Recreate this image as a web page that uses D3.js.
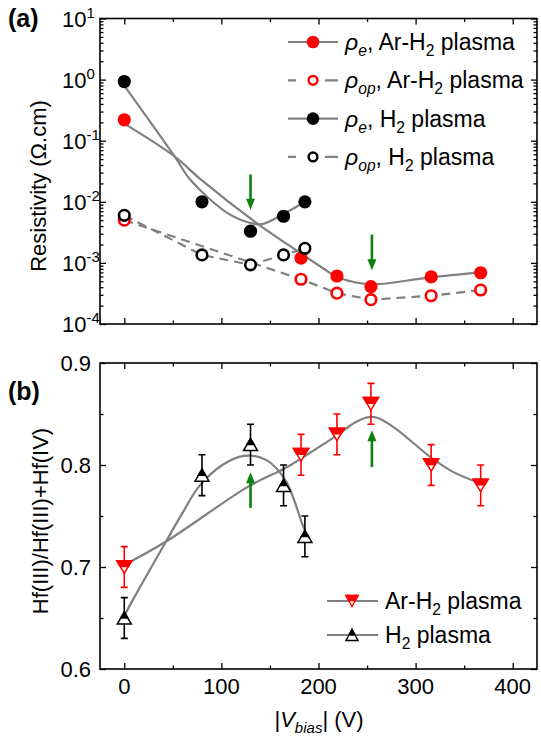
<!DOCTYPE html>
<html>
<head>
<meta charset="utf-8">
<script src="https://cdn.jsdelivr.net/npm/d3@7/dist/d3.min.js"></script>
<style>
  body { margin: 0; background: #fff; }
  svg text { font-family: Arial, "Liberation Sans", sans-serif; fill: #000; }
</style>
</head>
<body>
<svg id="chart" width="541" height="740"></svg>
<script>
// values
const vbiasArH2 = [0, 182, 219, 254, 316, 367]
const vbiasH2 = [0, 80, 130, 164, 186]

const rhoEArH2 = [0.22, 1.2e-3, 6.1e-4, 4.1e-4, 5.9e-4, 6.9e-4]
const rhoOpArH2 = [5.0e-3, 5.4e-4, 3.2e-4, 2.5e-4, 2.9e-4, 3.6e-4]
const rhoEH2 = [0.93, 1.0e-2, 3.3e-3, 5.8e-3, 1.0e-2]
const rhoOpH2 = [6.0e-3, 1.35e-3, 9.3e-4, 1.35e-3, 1.73e-3]

// fitted guide curves
const fitArH2RhoX = [0, 52, 79, 137, 175, 205, 218, 245, 262, 315, 367]
const fitArH2RhoY = [0.19, 0.055, 0.023, 4.4e-3, 1.7e-3, 8.1e-4, 6.0e-4, 4.6e-4, 4.5e-4, 5.8e-4, 7.0e-4]
const fitH2RhoX = [0, 52, 68, 106, 130, 142, 164, 186]
const fitH2RhoY = [0.8, 0.055, 0.023, 6.6e-3, 4.5e-3, 4.3e-3, 6.3e-3, 1.0e-2]

const fracArH2 = [0.70, 0.81, 0.83, 0.86, 0.80, 0.78]
const errArH2 = [0.02, 0.02, 0.02, 0.02, 0.02, 0.02]
const fracH2 = [0.65, 0.79, 0.82, 0.78, 0.73]
const errH2 = [0.02, 0.02, 0.02, 0.02, 0.02]

const fitArH2FracX = [0, 43, 128, 166, 183, 219, 238, 252, 261, 279, 315, 339, 367]
const fitArH2FracY = [0.702, 0.725, 0.779, 0.797, 0.807, 0.829, 0.842, 0.847, 0.846, 0.836, 0.808, 0.793, 0.782]
const fitH2FracX = [0, 9, 43, 60, 77, 101, 123, 146, 166, 183, 187]
const fitH2FracY = [0.652, 0.668, 0.725, 0.753, 0.779, 0.800, 0.809, 0.805, 0.785, 0.743, 0.733]

// green arrows: x, from, to
const arrowX = [130, 255]
const arrowTopFrom = [0.028, 2.9e-3]
const arrowTopTo = [7.4e-3, 7.6e-4]
const arrowBotFrom = [0.758, 0.798]
const arrowBotTo = [0.793, 0.834]

const xTicks = [0, 100, 200, 300, 400]
const xMinorTicks = [50, 150, 250, 350]
const yTopExp = [-4, -3, -2, -1, 0, 1]
const yBotTicks = [0.6, 0.7, 0.8, 0.9]
const yBotMinor = [0.65, 0.75, 0.85]

const red = '#ff0000', grey = '#808080', green = '#0a820a'

const svg = d3.select('#chart')

const x = d3.scaleLinear().domain([-25, 425]).range([100, 537])
const yTop = d3.scaleLog().domain([1e-4, 10]).range([324, 18.5])
const yBot = d3.scaleLinear().domain([0.6, 0.9]).range([669, 363])

const logMinor = []
yTopExp.slice(0, -1).forEach(k => d3.range(2, 10).forEach(m => logMinor.push(m * Math.pow(10, k))))

function ticks(axisFn, scale, values, size, transform) {
    svg.append('g')
        .attr('transform', transform)
        .call(axisFn(scale).tickValues(values).tickSizeInner(-size).tickSizeOuter(0).tickFormat(''))
        .call(g => g.select('.domain').remove())
        .call(g => g.selectAll('line').attr('stroke', '#000').attr('stroke-width', 1.3))
}

function frame(y) {
    const [y0, y1] = y.range()
    svg.append('rect')
        .attr('x', 100).attr('y', y1)
        .attr('width', 437).attr('height', y0 - y1)
        .attr('fill', 'none').attr('stroke', '#000').attr('stroke-width', 1.6)

    ticks(d3.axisBottom, x, xTicks, 6, `translate(0,${y0})`)
    ticks(d3.axisBottom, x, xMinorTicks, 3.5, `translate(0,${y0})`)
    ticks(d3.axisTop, x, xTicks, 6, `translate(0,${y1})`)
    ticks(d3.axisTop, x, xMinorTicks, 3.5, `translate(0,${y1})`)
}

function arrow(g, xv, y1, y2) {
    const dir = y2 > y1 ? 1 : -1
    g.append('line')
        .attr('x1', xv).attr('x2', xv)
        .attr('y1', y1).attr('y2', y2 - dir * 9)
        .attr('stroke', green).attr('stroke-width', 2.6)
    g.append('path')
        .attr('d', `M${xv - 4.5},${y2 - dir * 11} L${xv + 4.5},${y2 - dir * 11} L${xv},${y2} Z`)
        .attr('fill', green)
}

function subText(g, px, py, parts, size) {
    const t = g.append('text').attr('x', px).attr('y', py).attr('font-size', size)
    let shift = 0
    parts.forEach(p => {
        const s = p.sub ? 6 : p.sup ? -9 : 0
        t.append('tspan')
            .attr('dy', s - shift)
            .attr('font-size', p.sub || p.sup ? size * 0.68 : size)
            .attr('font-style', p.it ? 'italic' : null)
            .text(p.t)
        shift = s
    })
    return t
}

// ---------- panel (a) ----------
frame(yTop)
ticks(d3.axisLeft, yTop, yTopExp.map(k => Math.pow(10, k)), 6, 'translate(100,0)')
ticks(d3.axisLeft, yTop, logMinor, 3.5, 'translate(100,0)')
ticks(d3.axisRight, yTop, yTopExp.map(k => Math.pow(10, k)), 6, 'translate(537,0)')
ticks(d3.axisRight, yTop, logMinor, 3.5, 'translate(537,0)')

yTopExp.forEach(k => {
    subText(svg, 62, yTop(Math.pow(10, k)) + 8, [{ t: '10' }, { t: k, sup: true }], 22)
})

const lineTop = d3.line().x(d => x(d[0])).y(d => yTop(d[1]))
const smoothTop = d3.line().x(d => x(d[0])).y(d => yTop(d[1])).curve(d3.curveCatmullRom.alpha(0.5))

const pa = svg.append('g')
pa.append('path').attr('d', lineTop(d3.zip(vbiasArH2, rhoOpArH2)))
    .attr('fill', 'none').attr('stroke', grey).attr('stroke-width', 2.2).attr('stroke-dasharray', '9,6')
pa.append('path').attr('d', lineTop(d3.zip(vbiasH2, rhoOpH2)))
    .attr('fill', 'none').attr('stroke', grey).attr('stroke-width', 2.2).attr('stroke-dasharray', '9,6')
pa.append('path').attr('d', smoothTop(d3.zip(fitArH2RhoX, fitArH2RhoY)))
    .attr('fill', 'none').attr('stroke', grey).attr('stroke-width', 2.2)
pa.append('path').attr('d', smoothTop(d3.zip(fitH2RhoX, fitH2RhoY)))
    .attr('fill', 'none').attr('stroke', grey).attr('stroke-width', 2.2)

pa.selectAll('.eAr').data(d3.zip(vbiasArH2, rhoEArH2)).join('circle')
    .attr('cx', d => x(d[0])).attr('cy', d => yTop(d[1])).attr('r', 6.6).attr('fill', red)
pa.selectAll('.opAr').data(d3.zip(vbiasArH2, rhoOpArH2)).join('circle')
    .attr('cx', d => x(d[0])).attr('cy', d => yTop(d[1])).attr('r', 5.3)
    .attr('fill', '#fff').attr('stroke', red).attr('stroke-width', 2.6)
pa.selectAll('.eH2').data(d3.zip(vbiasH2, rhoEH2)).join('circle')
    .attr('cx', d => x(d[0])).attr('cy', d => yTop(d[1])).attr('r', 6.6).attr('fill', '#000')
pa.selectAll('.opH2').data(d3.zip(vbiasH2, rhoOpH2)).join('circle')
    .attr('cx', d => x(d[0])).attr('cy', d => yTop(d[1])).attr('r', 5.3)
    .attr('fill', '#fff').attr('stroke', '#000').attr('stroke-width', 2.6)

arrowX.forEach((v, i) => arrow(pa, x(v), yTop(arrowTopFrom[i]), yTop(arrowTopTo[i])))

// legend (a)
const legA = [
    { fill: red, stroke: red, dash: null, sub: 'e', gas: 'Ar-H' },
    { fill: '#fff', stroke: red, dash: '9,6', sub: 'op', gas: 'Ar-H' },
    { fill: '#000', stroke: '#000', dash: null, sub: 'e', gas: 'H' },
    { fill: '#fff', stroke: '#000', dash: '9,6', sub: 'op', gas: 'H' }
]
legA.forEach((d, i) => {
    const ly = 42 + i * 38.3
    pa.append('line').attr('x1', 288).attr('x2', 338).attr('y1', ly).attr('y2', ly)
        .attr('stroke', grey).attr('stroke-width', 2.2).attr('stroke-dasharray', d.dash ? '8,13,8' : null)
    pa.append('circle').attr('cx', 313).attr('cy', ly)
        .attr('r', d.fill === '#fff' ? 4.4 : 6.3)
        .attr('fill', d.fill).attr('stroke', d.fill === '#fff' ? d.stroke : 'none').attr('stroke-width', 2.5)
    subText(pa, 345, ly + 8, [
        { t: 'ρ', it: true }, { t: d.sub, it: true, sub: true }, { t: ', ' + d.gas },
        { t: '2', sub: true }, { t: ' plasma' }
    ], 23)
})

svg.append('text').attr('x', 8).attr('y', 27).attr('font-size', 25).attr('font-weight', 'bold').text('(a)')

svg.append('text')
    .attr('transform', 'translate(46,186) rotate(-90)')
    .attr('text-anchor', 'middle').attr('font-size', 22)
    .text('Resistivity (Ω.cm)')

// ---------- panel (b) ----------
frame(yBot)
ticks(d3.axisLeft, yBot, yBotTicks, 6, 'translate(100,0)')
ticks(d3.axisLeft, yBot, yBotMinor, 3.5, 'translate(100,0)')
ticks(d3.axisRight, yBot, yBotTicks, 6, 'translate(537,0)')
ticks(d3.axisRight, yBot, yBotMinor, 3.5, 'translate(537,0)')

yBotTicks.forEach(v => {
    svg.append('text').attr('x', 91).attr('y', yBot(v) + 8)
        .attr('text-anchor', 'end').attr('font-size', 22).text(d3.format('.1f')(v))
})
xTicks.forEach(v => {
    svg.append('text').attr('x', x(v)).attr('y', 694)
        .attr('text-anchor', 'middle').attr('font-size', 22).text(v)
})

const smoothBot = d3.line().x(d => x(d[0])).y(d => yBot(d[1])).curve(d3.curveCatmullRom.alpha(0.5))

const pb = svg.append('g')
pb.append('path').attr('d', smoothBot(d3.zip(fitArH2FracX, fitArH2FracY)))
    .attr('fill', 'none').attr('stroke', grey).attr('stroke-width', 2.2)
pb.append('path').attr('d', smoothBot(d3.zip(fitH2FracX, fitH2FracY)))
    .attr('fill', 'none').attr('stroke', grey).attr('stroke-width', 2.2)

function errorBars(g, xs, ys, es, color) {
    d3.zip(xs, ys, es).forEach(([xv, yv, e]) => {
        const cx = x(xv), t = yBot(yv + e), b = yBot(yv - e)
        g.append('path')
            .attr('d', `M${cx},${t} V${b} M${cx - 3.5},${t} H${cx + 3.5} M${cx - 3.5},${b} H${cx + 3.5}`)
            .attr('fill', 'none').attr('stroke', color).attr('stroke-width', 1.6)
    })
}

function triangle(g, cx, cy, w, h, up, color) {
    if (up) {
        g.append('path').attr('d', `M${cx},${cy - h / 2} L${cx + w},${cy + h / 2} L${cx - w},${cy + h / 2} Z`)
            .attr('fill', '#fff').attr('stroke', color).attr('stroke-width', 1.5)
        g.append('path').attr('d', `M${cx},${cy - h / 2} L${cx + w / 2},${cy} L${cx - w / 2},${cy} Z`)
            .attr('fill', color).attr('stroke', color).attr('stroke-width', 1.5)
    } else {
        g.append('path').attr('d', `M${cx - w},${cy - h / 2} L${cx + w},${cy - h / 2} L${cx},${cy + h / 2} Z`)
            .attr('fill', '#fff').attr('stroke', color).attr('stroke-width', 1.5)
        g.append('path').attr('d', `M${cx - w},${cy - h / 2} L${cx + w},${cy - h / 2} L${cx + w * 0.55},${cy - h * 0.05} L${cx - w * 0.55},${cy - h * 0.05} Z`)
            .attr('fill', color).attr('stroke', color).attr('stroke-width', 1.5)
    }
}

errorBars(pb, vbiasArH2, fracArH2, errArH2, red)
errorBars(pb, vbiasH2, fracH2, errH2, '#000')
d3.zip(vbiasArH2, fracArH2).forEach(([xv, yv]) => triangle(pb, x(xv), yBot(yv), 7.5, 12.5, false, red))
d3.zip(vbiasH2, fracH2).forEach(([xv, yv]) => triangle(pb, x(xv), yBot(yv), 7, 12, true, '#000'))

arrowX.forEach((v, i) => arrow(pb, x(v), yBot(arrowBotFrom[i]), yBot(arrowBotTo[i])))

// legend (b)
const legB = [
    { up: false, color: red, gas: 'Ar-H' },
    { up: true, color: '#000', gas: 'H' }
]
legB.forEach((d, i) => {
    const ly = 601 + i * 34
    pb.append('line').attr('x1', 327).attr('x2', 378).attr('y1', ly).attr('y2', ly)
        .attr('stroke', grey).attr('stroke-width', 2.2)
    triangle(pb, 352, ly, 6, 11, d.up, d.color)
    subText(pb, 385, ly + 8, [{ t: d.gas }, { t: '2', sub: true }, { t: ' plasma' }], 23)
})

svg.append('text').attr('x', 8).attr('y', 400).attr('font-size', 25).attr('font-weight', 'bold').text('(b)')

svg.append('text')
    .attr('transform', 'translate(48,521) rotate(-90)')
    .attr('text-anchor', 'middle').attr('font-size', 22)
    .text('Hf(III)/Hf(III)+Hf(IV)')

const xt = svg.append('text').attr('x', 319).attr('y', 727).attr('text-anchor', 'middle').attr('font-size', 22)
xt.append('tspan').text('|')
xt.append('tspan').attr('font-style', 'italic').text('V')
xt.append('tspan').attr('font-style', 'italic').attr('font-size', 15).attr('dy', 6).text('bias')
xt.append('tspan').attr('dy', -6).text('| (V)')
</script>
</body>
</html>
